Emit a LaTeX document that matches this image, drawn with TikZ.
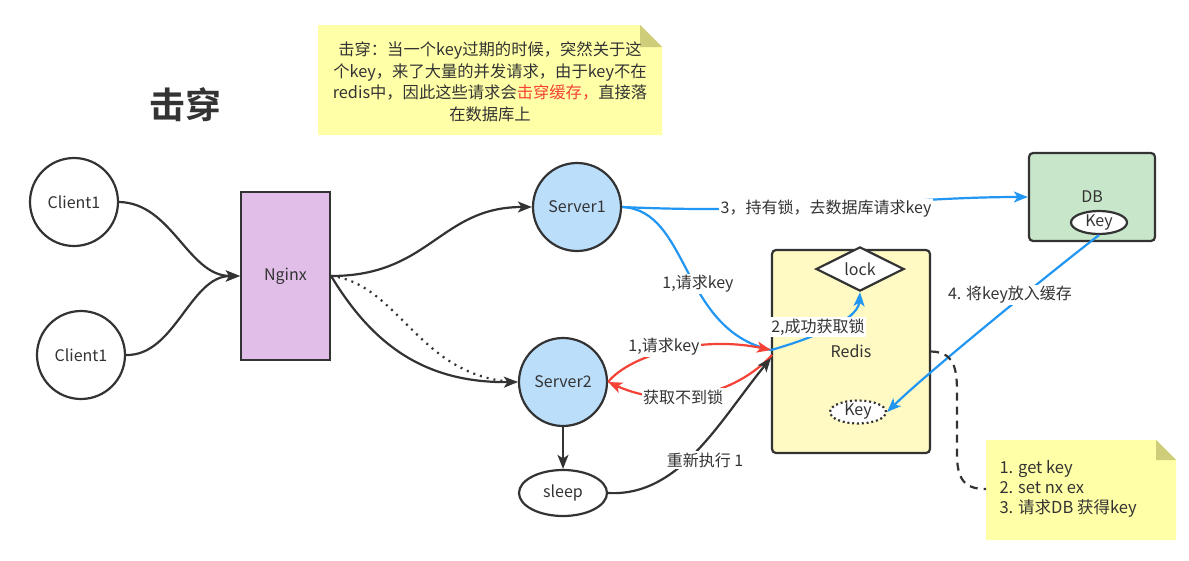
\documentclass[tikz,border=0pt]{standalone}
\usepackage{fontspec}
\setmainfont{Noto Sans CJK SC}[BoldFont={Noto Sans CJK SC Bold}]
\usetikzlibrary{arrows.meta,shapes.geometric}
\definecolor{txt}{HTML}{333333}
\definecolor{notey}{HTML}{FFFFA8}
\definecolor{notef}{HTML}{CDCD7A}
\definecolor{nginxc}{HTML}{E1BEE7}
\definecolor{srvc}{HTML}{BBDEFB}
\definecolor{redisc}{HTML}{FFF9C4}
\definecolor{dbc}{HTML}{C8E6C9}
\definecolor{bluec}{HTML}{2196F3}
\definecolor{redc}{HTML}{F44336}
\newcommand\fsz{\fontsize{16}{19}\selectfont}
\tikzset{
  ln/.style={draw=txt, line width=2.2pt},
  arr/.style={-{Stealth[length=14pt,width=11pt,inset=3.5pt]}},
  circ/.style={circle, draw=txt, line width=2.2pt, minimum size=88pt, inner sep=0pt},
  boxr/.style={rectangle, draw=txt, line width=2.2pt, inner sep=0pt},
  lbl/.style={fill=white, inner sep=1.5pt},
  bl/.style={draw=bluec, line width=2.2pt},
  rl/.style={draw=redc, line width=2.2pt},
}
\begin{document}
\begin{tikzpicture}[x=1pt,y=-1pt,font=\fsz,text=txt]
\useasboundingbox (0,0) rectangle (1189,560);
\fill[white] (0,0) rectangle (1189,560);

% title
\node[font=\fontsize{36}{42}\selectfont\bfseries] (title) at (185,105) {击穿};

% note 1
\fill[notey] (318,25) -- (640,25) -- (662,47) -- (662,135) -- (318,135) -- cycle;
\fill[notef] (640,25) -- (662,47) -- (640,47) -- cycle;
\node[align=center, font=\fontsize{16.3}{21.5}\selectfont] (note1) at (490,82)
  {击穿：当一个key过期的时候，突然关于这\\个key，来了大量的并发请求，由于key不在\\redis中，因此这些请求会\textcolor{redc}{击穿缓存，}直接落\\在数据库上};

% note 2
\fill[notey] (986,440) -- (1156,440) -- (1176,460) -- (1176,540) -- (986,540) -- cycle;
\fill[notef] (1156,440) -- (1176,460) -- (1156,460) -- cycle;
\coordinate (n2w) at (986,489);
\node[align=left, anchor=west, font=\fontsize{16.5}{20}\selectfont] (note2) at (996,489)
  {1. get key\\2. set nx ex\\3. 请求DB 获得key};

% nodes
\node[circ, fill=white] (c1) at (74,202) {Client1};
\node[circ, fill=white] (c2) at (81,355) {Client1};
\node[boxr, fill=nginxc, minimum width=89pt, minimum height=168pt] (ng) at (285.5,276) {Nginx};
\node[circ, fill=srvc] (s1) at (577,207) {Server1};
\node[circ, fill=srvc] (s2) at (563,382) {Server2};
\node[ellipse, draw=txt, line width=2.2pt, fill=white, minimum width=88pt, minimum height=46pt, inner sep=0pt] (sl) at (563,493) {sleep};
\node[boxr, rounded corners=4pt, fill=redisc, minimum width=158pt, minimum height=203pt] (rd) at (851,351.5) {Redis};
\node[diamond, draw=txt, line width=2.2pt, fill=white, minimum width=88pt, minimum height=28pt, inner sep=0pt] (lk) at (860,269) {lock};
\node[ellipse, draw=txt, line width=2.2pt, dash pattern=on 2pt off 2.8pt, fill=white, minimum width=56pt, minimum height=23pt, inner sep=0pt] (rk) at (858,412) {Key};
\node[boxr, rounded corners=4pt, fill=dbc, minimum width=126pt, minimum height=88pt] (db) at (1092,197) {};
\node (dbt) at (1092,197) {DB};
\node[ellipse, draw=txt, line width=2.2pt, fill=white, minimum width=56pt, minimum height=23pt, inner sep=0pt] (dk) at (1099,222.5) {Key};

\coordinate (rin) at (771,350);
\coordinate (rin2) at (772,355);
\coordinate (rin3) at (771,358);

% client -> nginx
\draw[ln,arr] (c1.east) .. controls (172,203) and (188,276) .. (ng.west);
\draw[ln,arr] (c2.east) .. controls (175,356) and (190,276) .. (ng.west);
% nginx -> servers
\draw[ln,arr] (ng.east) .. controls (430,276) and (440,207) .. (s1.west);
\draw[ln,arr] (ng.east) .. controls (370,340) and (420,383) .. (s2.west);
\draw[ln,dash pattern=on 2pt off 5pt] (ng.east) .. controls (400,284) and (420,380) .. (s2.west);
% server2 -> sleep
\draw[ln,arr] (s2.south) -- (sl.north);

% blue
\draw[bl,arr] (s1.east) .. controls (800,215) and (900,197) .. (db.west);
\draw[bl] (s1.east) .. controls (690,210) and (680,330) .. (rin);
\draw[bl,arr] (rin) .. controls (800,342) and (858,322) .. (lk.south);
\draw[bl,arr] (dk.south) .. controls (1060,265) and (930,370) .. (rk.east);

% red
\draw[rl,arr] (s2.east) .. controls (630,355) and (700,335) .. (rin);
\draw[rl,arr] (rin2) .. controls (735,395) and (670,410) .. (s2.east);

% sleep -> redis
\draw[ln,arr] (sl.east) .. controls (680,497) and (720,420) .. (rin3);

% dashed redis -> note2
\draw[ln,dash pattern=on 8pt off 6pt] (rd.east) .. controls (958,352) and (957,375) .. (957,400) -- (957,455) .. controls (957,485) and (970,489) .. (n2w);

% labels
\node[lbl] (l3) at (826,209) {3，持有锁，去数据库请求key};
\node[lbl] (l1) at (698,284) {1,请求key};
\node[lbl] (l2) at (818,327) {2,成功获取锁};
\node[lbl] (lr1) at (664,347) {1,请求key};
\node[lbl] (lr2) at (683,397) {获取不到锁};
\node[lbl] (ls) at (705,460) {重新执行 1};
\node[lbl] (l4) at (1010,295) {4. 将key放入缓存};
\end{tikzpicture}
\end{document}
